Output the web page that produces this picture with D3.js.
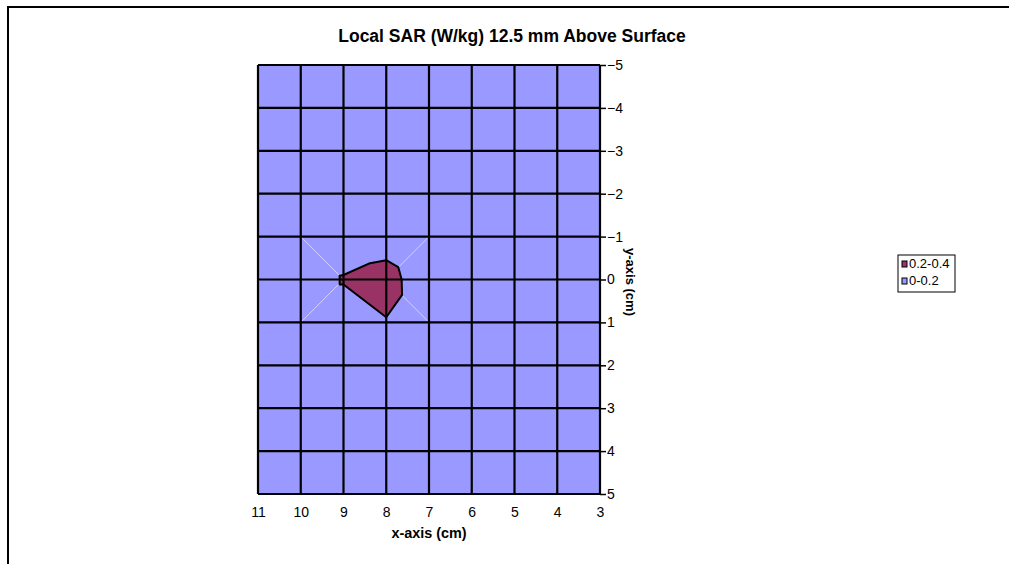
<!DOCTYPE html>
<html><head><meta charset="utf-8">
<script src="https://cdn.jsdelivr.net/npm/d3@7"></script>
<style>body{margin:0;background:#fff}svg{display:block}text{font-family:Arial,"Liberation Sans",sans-serif}</style>
</head><body><svg id="c" width="1009" height="564"></svg>
<script>
const title = "Local SAR (W/kg) 12.5 mm Above Surface";
const xTicks = [11,10,9,8,7,6,5,4,3];
const yTicks = [-5,-4,-3,-2,-1,0,1,2,3,4,5];
const xDomain = [11,3];
const yDomain = [-5,5];
const legendLabels = ["0.2-0.4","0-0.2"];
const legendColors = ["#993366","#9999FF"];
// contour region 0.2-0.4 (x cm, y cm)
const regionX = [9.0, 8.38, 8.0, 7.72, 7.64, 7.63, 8.0, 9.0, 9.09, 9.09];
const regionY = [-0.105, -0.38, -0.45, -0.29, 0.0, 0.36, 0.88, 0.115, 0.115, -0.09];
// faint triangulation segments
const segX1 = [10,10,7,7], segY1 = [-1,1,-1,1], segX2 = [9,9,8,8], segY2 = [0,0,0,0];

const svg = d3.select("#c");
svg.append("path").attr("d","M8,564 L8,7 L1009,7").attr("fill","none").attr("stroke","#000").attr("stroke-width",2);

const x = d3.scaleLinear().domain(xDomain).range([258,600]);
const y = d3.scaleLinear().domain(yDomain).range([65,494]);

svg.append("rect").attr("x",x(11)).attr("y",y(-5)).attr("width",x(3)-x(11)).attr("height",y(5)-y(-5)).attr("fill",legendColors[1]);

const segs = segX1.map((d,i)=>[d,segY1[i],segX2[i],segY2[i]]);
svg.selectAll("line.seg").data(segs).join("line").attr("class","seg")
  .attr("x1",d=>x(d[0])).attr("y1",d=>y(d[1])).attr("x2",d=>x(d[2])).attr("y2",d=>y(d[3]))
  .attr("stroke","#fff").attr("stroke-opacity",0.55).attr("stroke-width",1);

const pts = regionX.map((d,i)=>[x(d),y(regionY[i])]);
svg.append("path").attr("d","M"+pts.map(p=>p.join(",")).join("L")+"Z")
  .attr("fill",legendColors[0]).attr("stroke","#000").attr("stroke-width",2).attr("stroke-linejoin","round");

svg.selectAll("line.gx").data(xTicks).join("line").attr("class","gx")
  .attr("x1",d=>x(d)).attr("x2",d=>x(d)).attr("y1",y(-5)).attr("y2",y(5)).attr("stroke","#000").attr("stroke-width",2.2);
svg.selectAll("line.gy").data(yTicks).join("line").attr("class","gy")
  .attr("y1",d=>y(d)).attr("y2",d=>y(d)).attr("x1",x(11)).attr("x2",x(3)).attr("stroke","#000").attr("stroke-width",2.2);

const xAxis = d3.axisBottom(x).tickValues(xTicks).tickSize(0).tickPadding(13).tickFormat(d3.format("d"));
const gx = svg.append("g").attr("transform",`translate(0,${y(5)})`).call(xAxis);
gx.select(".domain").remove();
gx.selectAll("text").attr("font-size",14).attr("fill","#000").attr("font-family","Arial, Liberation Sans, sans-serif");

const yAxis = d3.axisRight(y).tickValues(yTicks).tickSize(6).tickPadding(1).tickFormat(d3.format("d"));
const gy = svg.append("g").attr("transform",`translate(${x(3)},0)`).call(yAxis);
gy.select(".domain").remove();
gy.selectAll("line").attr("stroke","#000").attr("stroke-width",1.5);
gy.selectAll("text").attr("font-size",14).attr("fill","#000").attr("font-family","Arial, Liberation Sans, sans-serif");

svg.append("text").attr("x",512).attr("y",42).attr("text-anchor","middle").attr("font-size",17.5).attr("font-weight","bold").text(title);
svg.append("text").attr("x",429).attr("y",538).attr("text-anchor","middle").attr("font-size",14.4).attr("font-weight","bold").text("x-axis (cm)");
svg.append("text").attr("transform","translate(626,282) rotate(90)").attr("text-anchor","middle").attr("font-size",13).attr("font-weight","bold").text("y-axis (cm)");

const lg = svg.append("g");
lg.append("rect").attr("x",898).attr("y",255).attr("width",57).attr("height",37).attr("fill","#fff").attr("stroke","#000").attr("stroke-width",1);
legendLabels.forEach((l,i)=>{
  lg.append("rect").attr("x",902).attr("y",261+i*17).attr("width",5).attr("height",6).attr("fill",legendColors[i]).attr("stroke","#000").attr("stroke-width",1);
  lg.append("text").attr("x",909).attr("y",268+i*17).attr("font-size",13).text(l);
});
</script></body></html>
